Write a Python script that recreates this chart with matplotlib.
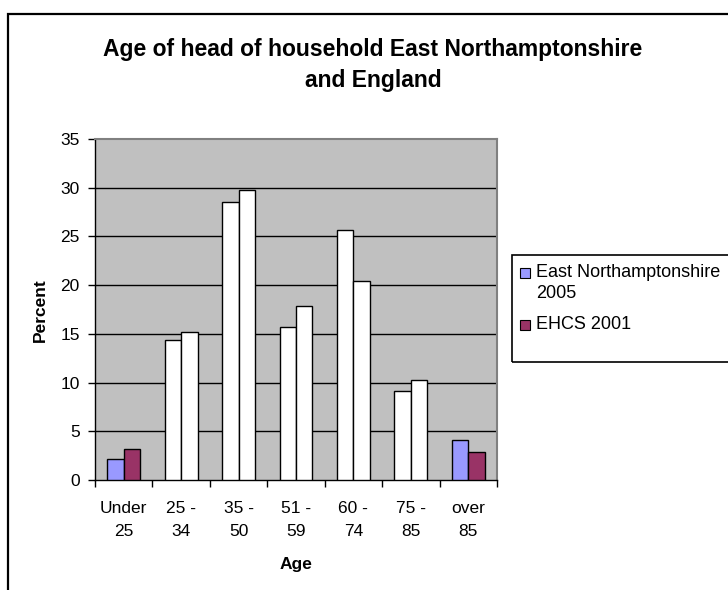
import matplotlib
matplotlib.use("Agg")
import matplotlib.pyplot as plt
from matplotlib.patches import Rectangle
import numpy as np

plt.rcParams['font.family'] = ['Liberation Sans', 'DejaVu Sans']

categories = ["Under\n25", "25 -\n34", "35 -\n50", "51 -\n59", "60 -\n74", "75 -\n85", "over\n85"]
east_northants_2005 = [2.2, 14.4, 28.5, 15.7, 25.7, 9.1, 4.1]
ehcs_2001 = [3.2, 15.2, 29.8, 17.9, 20.4, 10.3, 2.9]
series_names = ["East Northamptonshire\n2005", "EHCS 2001"]
series_colors = ["#9999FF", "#993366"]
# which categories keep the series colour (others drawn white)
coloured = [True, False, False, False, False, False, True]
yticks = [0, 5, 10, 15, 20, 25, 30, 35]

W, H = 728, 590
fig = plt.figure(figsize=(W / 100, H / 100), dpi=100)

def fx(px):
    return px / W

def fy(py):
    return 1 - py / H

# outer chart frame
fig.patches.append(Rectangle((fx(8), -0.05), 1.1, fy(14) + 0.05, transform=fig.transFigure,
                             fill=False, edgecolor='black', linewidth=1.6, zorder=0))

ax = fig.add_axes([fx(95), fy(480), (497 - 95) / W, (480 - 139) / H])
ax.set_facecolor('#C0C0C0')

x = np.arange(len(categories))
w = 1 / 3.5
for vals, off, col in [(east_northants_2005, -w / 2, series_colors[0]), (ehcs_2001, w / 2, series_colors[1])]:
    fills = [col if c else 'white' for c in coloured]
    ax.bar(x + off, vals, width=w, color=fills, edgecolor='black', linewidth=1.0, zorder=3)

ax.set_xlim(-0.5, len(categories) - 0.5)
ax.set_ylim(0, 35)
ax.set_yticks(yticks)
ax.set_yticklabels([str(t) for t in yticks], fontsize=12.5)
for t in yticks[1:-1]:
    ax.axhline(t, color='black', linewidth=1.0, zorder=1)

ax.set_xticks(np.arange(-0.5, len(categories), 1.0))
ax.set_xticklabels([])
ax.set_xticks(x, minor=True)
ax.set_xticklabels(categories, minor=True, fontsize=12.5, linespacing=1.7)
ax.tick_params(axis='x', which='minor', length=0, pad=15)
ax.tick_params(axis='x', which='major', length=5, direction='out', width=1)
ax.tick_params(axis='y', length=5, direction='out', width=1, pad=6)

for s in ['top', 'right']:
    ax.spines[s].set_color('#808080')
    ax.spines[s].set_linewidth(1.5)
for s in ['left', 'bottom']:
    ax.spines[s].set_color('black')
    ax.spines[s].set_linewidth(1.0)

fig.text(fx(40), fy(310), "Percent", rotation=90, ha='center', va='center',
         fontsize=12.5, fontweight='bold')
fig.text(fx(296), fy(565), "Age", ha='center', va='center', fontsize=12.5, fontweight='bold')

fig.text(fx(373), fy(65), "Age of head of household East Northamptonshire\nand England",
         ha='center', va='center', fontsize=16.5, fontweight='bold', linespacing=1.45)

# legend box
fig.patches.append(Rectangle((fx(512), fy(362)), 0.5, (362 - 255) / H, transform=fig.transFigure,
                             fill=False, edgecolor='black', linewidth=1.2, zorder=0))
leg_y = [273, 325]
for name, col, yy in zip(series_names, series_colors, leg_y):
    fig.patches.append(Rectangle((fx(520), fy(yy + 5)), 10 / W, 10 / H, transform=fig.transFigure,
                                 facecolor=col, edgecolor='black', linewidth=0.8))
    fig.text(fx(536), fy(yy - 9), name, ha='left', va='top', fontsize=13, linespacing=1.3)

fig.savefig("out.png", dpi=100)
